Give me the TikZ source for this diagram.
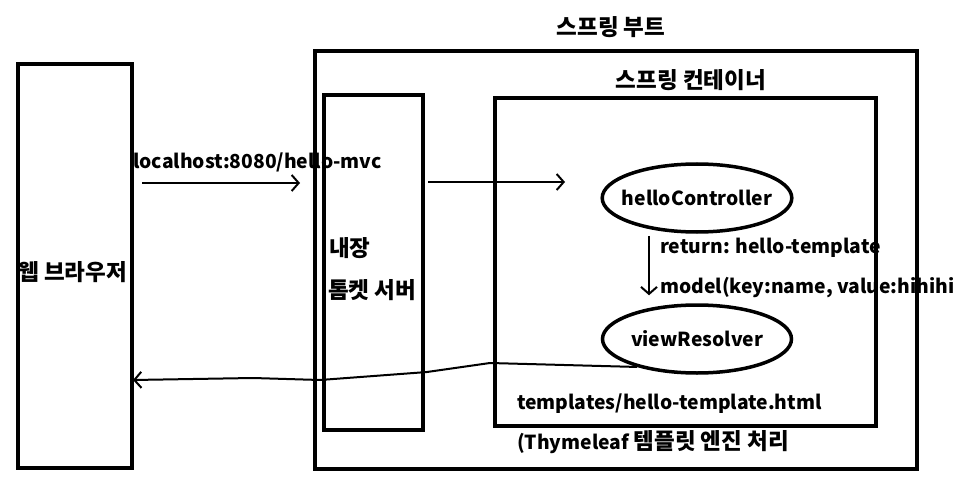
\documentclass[tikz,border=0pt]{standalone}
\usepackage{fontspec}
\setmainfont{Noto Sans CJK KR}
\usetikzlibrary{shapes.geometric, arrows.meta, calc}

\newcommand{\kosize}{\fontsize{22.5}{26}\selectfont}

\begin{document}
\begin{tikzpicture}[x=1pt, y=-1pt, font=\bfseries\fontsize{19.3}{22}\selectfont]
  \tikzset{box/.style={draw, line width=4pt, inner sep=0pt, anchor=north west},
    bean/.style={draw, ellipse, line width=3.5pt, inner xsep=-8pt, inner ysep=0pt,
      minimum width=189pt, minimum height=68pt},
    flow/.style={line width=2pt, -{Straight Barb[length=7pt, width=16pt, line width=2pt]}},
    lbl/.style={anchor=west, inner sep=0pt},
    ko/.style={font=\bfseries\kosize}
  }
  \useasboundingbox (0,0) rectangle (960,489);

  % texts first, the box borders run over them
  \node [lbl] (url) at (133,162) {localhost:8080/hello-mvc};
  \node [lbl] (ret) at (660,248) {return: hello-template};
  \node [lbl] (mdl) at (660,288) {model(key:name, value:hihihi};
  \node [lbl] (tpl) at (517,404) {templates/hello-template.html};
  \node [lbl] (eng) at (517,442) {(Thymeleaf {\kosize 템플릿 엔진 처리}};
  \node [ko] (bootlbl) at (611,27) {스프링 부트};
  \node [ko] (contlbl) at (691,80) {스프링 컨테이너};
  \node [lbl, ko] (weblbl) at (18,272) {웹 브라우저};
  \node [lbl, ko] (tc1) at (329,248) {내장};
  \node [lbl, ko] (tc2) at (328,290) {톰켓 서버};

  \node [box, minimum width=114pt, minimum height=404pt] (browser) at (16,62) {};
  \node [box, minimum width=602pt, minimum height=418pt] (boot) at (313,49) {};
  \node [box, minimum width=99pt, minimum height=335pt] (tomcat) at (322,93) {};
  \node [box, minimum width=381pt, minimum height=328pt] (container) at (493,96) {};

  \node [bean] (ctrl) at (697,198) {helloController};
  \node [bean] (vr) at (697,339) {viewResolver};

  \coordinate (req1s) at (142,183);
  \coordinate (req1e) at (300,183);
  \coordinate (req2s) at (428,182);
  \coordinate (req2e) at (565,182);
  \coordinate (back) at (133,380);

  \draw [flow] (req1s) -- (req1e);
  \draw [flow] (req2s) -- (req2e);
  \draw [flow] ($(ctrl.south)+(-48,2)$) -- ($(vr.north)+(-48,-8)$);
  \draw [flow] (vr.205) -- (490,363) -- (427,372) -- (387,375) -- (320,380)
    -- (253,378) -- (back);
\end{tikzpicture}
\end{document}
